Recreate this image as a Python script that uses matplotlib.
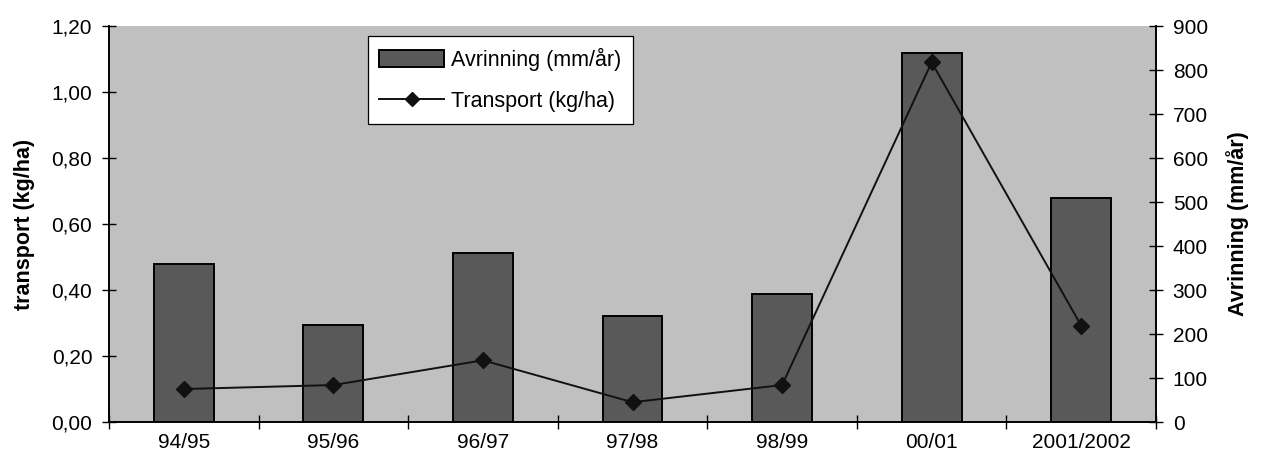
import matplotlib
matplotlib.use("Agg")
from matplotlib import pyplot as plt
from matplotlib.ticker import FuncFormatter, FixedLocator
from matplotlib.patches import Patch
from matplotlib.lines import Line2D
import numpy as np

plt.rcParams['font.family'] = ['Liberation Sans', 'DejaVu Sans']

# Data
seasons = ['94/95', '95/96', '96/97', '97/98', '98/99', '00/01', '2001/2002']
avrinning = [360, 220, 385, 240, 290, 838, 508]         # mm/år
transport = [0.10, 0.112, 0.187, 0.06, 0.112, 1.09, 0.292]  # kg/ha

x = np.arange(len(seasons))
fs = 15

fig = plt.figure(figsize=(12.62, 4.66), dpi=100)
ax = fig.add_axes([0.0864, 0.0944, 0.8296, 0.8498])
ax2 = ax.twinx()

# Bars (right axis)
ax.bar(x, avrinning, width=0.4, color='#595959', edgecolor='black', linewidth=1.4, zorder=2)
ax.set_facecolor('#c0c0c0')
ax.set_xlim(-0.5, len(seasons) - 0.5)
ax.set_ylim(0, 900)
ax.set_yticks(np.arange(0, 901, 100))
ax.yaxis.tick_right()
ax.yaxis.set_label_position('right')
ax.set_ylabel('Avrinning (mm/år)', fontsize=fs + 0.5, fontweight='bold', labelpad=13)

# Line (left axis)
ax2.plot(x, transport, color='#111111', linewidth=1.4, marker='D', markersize=8, zorder=3)
ax2.set_ylim(0, 1.2)
ax2.set_yticks(np.arange(0, 1.21, 0.2))
ax2.yaxis.tick_left()
ax2.yaxis.set_label_position('left')
ax2.yaxis.set_major_formatter(FuncFormatter(lambda v, p: f'{v:.2f}'.replace('.', ',')))
ax2.set_ylabel('transport (kg/ha)', fontsize=fs + 0.5, fontweight='bold', labelpad=12)

# x axis: labels at centres, ticks at boundaries
ax.set_xticks(x)
ax.set_xticklabels(seasons)
ax.xaxis.set_minor_locator(FixedLocator(np.arange(-0.5, len(seasons), 1.0)))
ax.tick_params(axis='x', which='major', length=0, labelsize=fs, pad=8)
ax.tick_params(axis='x', which='minor', direction='inout', length=10, width=1)
ax.tick_params(axis='y', direction='inout', length=10, width=1, labelsize=fs, pad=7)
ax2.tick_params(axis='y', direction='inout', length=10, width=1, labelsize=fs, pad=7)

for a in (ax, ax2):
    a.spines['top'].set_visible(False)
    for s in ('left', 'right', 'bottom'):
        a.spines[s].set_linewidth(1.2)

handles = [Patch(facecolor='#595959', edgecolor='black', linewidth=1.4),
           Line2D([0], [0], color='#111111', linewidth=1.4, marker='D', markersize=7)]
leg = ax2.legend(handles, ['Avrinning (mm/år)', 'Transport (kg/ha)'],
                 loc='upper left', bbox_to_anchor=(0.247, 0.975), fontsize=fs + 0.5,
                 fancybox=False, framealpha=1, edgecolor='black',
                 handlelength=3.0, handleheight=0.8, handletextpad=0.3,
                 borderpad=0.55, borderaxespad=0, labelspacing=0.93)
leg.get_frame().set_linewidth(0.9)

fig.savefig('out.png', dpi=100)
